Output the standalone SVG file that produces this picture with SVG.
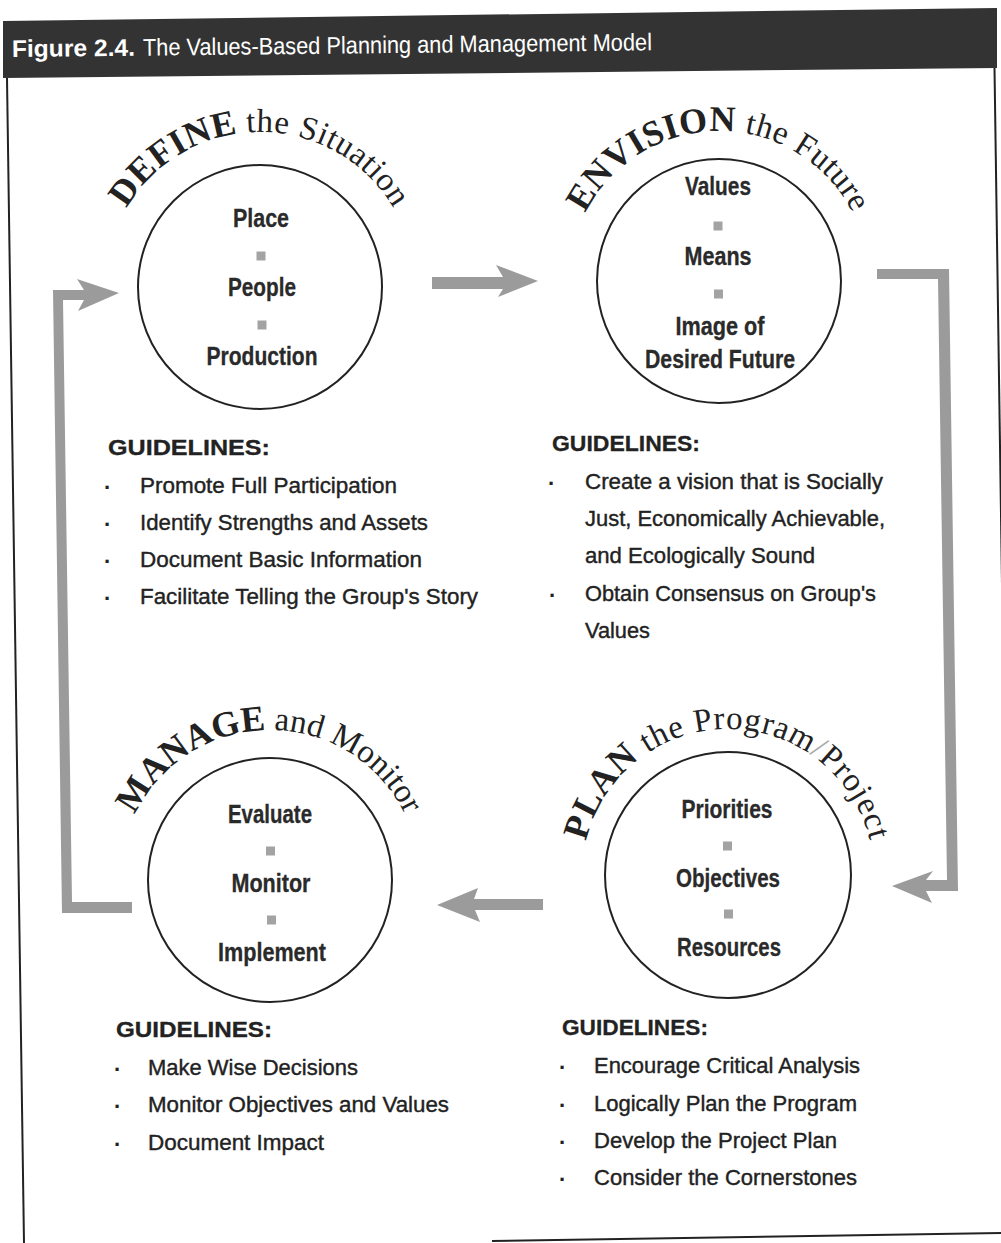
<svg xmlns="http://www.w3.org/2000/svg" width="1001" height="1243" viewBox="0 0 1001 1243">
<style>
.arc{font-family:"Liberation Serif","Times New Roman",serif;font-size:33px;fill:#222;letter-spacing:0.5px}
.cap{font-weight:bold;font-size:36px}
.inner{font-family:"Liberation Sans",Arial,sans-serif;font-weight:bold;font-size:25px;fill:#2a2a2a;text-anchor:middle;stroke:#2a2a2a;stroke-width:0.3}
.gh{font-family:"Liberation Sans",Arial,sans-serif;font-weight:bold;font-size:22px;fill:#222;stroke:#222;stroke-width:0.3}
.gi{font-family:"Liberation Sans",Arial,sans-serif;font-size:22.5px;fill:#222;stroke:#222;stroke-width:0.4}
.bul{font-family:"Liberation Sans",Arial,sans-serif;font-weight:bold;font-size:22px;fill:#222}
.arrow{fill:#9b9b9b}
.circ{fill:none;stroke:#222;stroke-width:2}
.sq{fill:#a3a3a3}
.frame{stroke:#222;stroke-width:2;fill:none}
.hd{font-family:"Liberation Sans",Arial,sans-serif;font-size:24px;fill:#fff}
</style>
<defs>
<path id="pDefine" d="M114.35,340 A155,155 0 1 1 405.65,340"/>
<path id="pEnvision" d="M578.05,332.3 A150,150 0 1 1 859.95,332.3"/>
<path id="pManage" d="M129.05,931.3 A150,150 0 1 1 410.95,931.3"/>
<path id="pPlan" d="M590.8,924.9 A146,146 0 1 1 865.2,924.9"/>
</defs>
<rect width="1001" height="1243" fill="#fff"/>
<g id="header">
<polygon points="3,21 997,8 997,68 3,78" fill="#333"/>
<text class="hd" transform="rotate(-0.6 12 57)" x="12" y="57"><tspan font-weight="bold" textLength="123" lengthAdjust="spacingAndGlyphs">Figure 2.4.</tspan><tspan x="143" textLength="509" lengthAdjust="spacingAndGlyphs">The Values-Based Planning and Management Model</tspan></text>
</g>
<g id="frame">
<line class="frame" x1="7" y1="78" x2="24" y2="1243"/>
<line class="frame" x1="994.5" y1="68" x2="1005" y2="790"/>
<line class="frame" x1="492" y1="1241" x2="1001" y2="1233"/>
</g>
<g id="connectors">
<polygon class="arrow" points="432,277 503,277 496,265 538,281 498,297 503,289 432,289"/>
<polygon class="arrow" points="543,899 474,899 478,888 437,905 480,922 475,910 543,910"/>
<polygon class="arrow" points="53,290 84,290 77,279 119,293 78,311 84,300 63,300 72,902 132,902 132,913 62,913"/>
<polygon class="arrow" points="877,269 949,269 958,891 926,891 932,903 892,886 933,871 926,880 947,880 938,279 877,279"/>
</g>
<g id="define">
<circle class="circ" cx="260" cy="287" r="122"/>
<text class="arc"><textPath href="#pDefine" startOffset="50%" text-anchor="middle"><tspan class="cap">DEFINE</tspan> the Situation</textPath></text>
<text class="inner" x="261" y="227" textLength="56" lengthAdjust="spacingAndGlyphs">Place</text>
<rect class="sq" x="256.5" y="251.5" width="9" height="9"/>
<text class="inner" x="262" y="296" textLength="68" lengthAdjust="spacingAndGlyphs">People</text>
<rect class="sq" x="257.5" y="320.5" width="9" height="9"/>
<text class="inner" x="262" y="365" textLength="111" lengthAdjust="spacingAndGlyphs">Production</text>
</g>
<g id="envision">
<circle class="circ" cx="719" cy="281" r="122"/>
<text class="arc"><textPath href="#pEnvision" startOffset="50%" text-anchor="middle"><tspan class="cap">ENVISION</tspan> the Future</textPath></text>
<text class="inner" x="718" y="195" textLength="66" lengthAdjust="spacingAndGlyphs">Values</text>
<rect class="sq" x="713.5" y="221.5" width="9" height="9"/>
<text class="inner" x="718" y="265" textLength="67" lengthAdjust="spacingAndGlyphs">Means</text>
<rect class="sq" x="714" y="289.5" width="9" height="9"/>
<text class="inner" x="720" y="335" textLength="89" lengthAdjust="spacingAndGlyphs">Image of</text>
<text class="inner" x="720" y="368" textLength="150" lengthAdjust="spacingAndGlyphs">Desired Future</text>
</g>
<g id="manage">
<circle class="circ" cx="270" cy="880" r="122"/>
<text class="arc" style="letter-spacing:0"><textPath href="#pManage" startOffset="50%" text-anchor="middle"><tspan class="cap">MANAGE</tspan> and Monitor</textPath></text>
<text class="inner" x="270" y="823" textLength="84" lengthAdjust="spacingAndGlyphs">Evaluate</text>
<rect class="sq" x="266" y="846.5" width="9" height="9"/>
<text class="inner" x="271" y="892" textLength="79" lengthAdjust="spacingAndGlyphs">Monitor</text>
<rect class="sq" x="267" y="915.5" width="9" height="9"/>
<text class="inner" x="272" y="961" textLength="108" lengthAdjust="spacingAndGlyphs">Implement</text>
</g>
<g id="plan">
<circle class="circ" cx="728" cy="875" r="123"/>
<text class="arc" style="letter-spacing:0.8px"><textPath href="#pPlan" startOffset="50%" text-anchor="middle"><tspan class="cap">PLAN</tspan> the Program<tspan fill="#aaa">/</tspan>Project</textPath></text>
<text class="inner" x="727" y="818" textLength="91" lengthAdjust="spacingAndGlyphs">Priorities</text>
<rect class="sq" x="723" y="841.5" width="9" height="9"/>
<text class="inner" x="728" y="887" textLength="104" lengthAdjust="spacingAndGlyphs">Objectives</text>
<rect class="sq" x="724" y="909.5" width="9" height="9"/>
<text class="inner" x="729" y="956" textLength="104" lengthAdjust="spacingAndGlyphs">Resources</text>
</g>
<g id="guidelines-define">
<text class="gh" x="108" y="455" textLength="162" lengthAdjust="spacingAndGlyphs">GUIDELINES:</text>
<text class="bul" x="104" y="495">·</text>
<text class="gi" x="140" y="493" textLength="257" lengthAdjust="spacingAndGlyphs">Promote Full Participation</text>
<text class="bul" x="104" y="532">·</text>
<text class="gi" x="140" y="530" textLength="288" lengthAdjust="spacingAndGlyphs">Identify Strengths and Assets</text>
<text class="bul" x="104" y="569">·</text>
<text class="gi" x="140" y="567" textLength="282" lengthAdjust="spacingAndGlyphs">Document Basic Information</text>
<text class="bul" x="104" y="606">·</text>
<text class="gi" x="140" y="604" textLength="338" lengthAdjust="spacingAndGlyphs">Facilitate Telling the Group's Story</text>
</g>
<g id="guidelines-envision">
<text class="gh" x="552" y="451" textLength="148" lengthAdjust="spacingAndGlyphs">GUIDELINES:</text>
<text class="bul" x="548" y="491">·</text>
<text class="gi" x="585" y="489" textLength="298" lengthAdjust="spacingAndGlyphs">Create a vision that is Socially</text>
<text class="gi" x="585" y="526" textLength="300" lengthAdjust="spacingAndGlyphs">Just, Economically Achievable,</text>
<text class="gi" x="585" y="563" textLength="230" lengthAdjust="spacingAndGlyphs">and Ecologically Sound</text>
<text class="bul" x="549" y="603">·</text>
<text class="gi" x="585" y="601" textLength="291" lengthAdjust="spacingAndGlyphs">Obtain Consensus on Group's</text>
<text class="gi" x="585" y="638" textLength="65" lengthAdjust="spacingAndGlyphs">Values</text>
</g>
<g id="guidelines-manage">
<text class="gh" x="116" y="1037" textLength="156" lengthAdjust="spacingAndGlyphs">GUIDELINES:</text>
<text class="bul" x="114" y="1077">·</text>
<text class="gi" x="148" y="1075" textLength="210" lengthAdjust="spacingAndGlyphs">Make Wise Decisions</text>
<text class="bul" x="114" y="1114">·</text>
<text class="gi" x="148" y="1112" textLength="301" lengthAdjust="spacingAndGlyphs">Monitor Objectives and Values</text>
<text class="bul" x="114" y="1152">·</text>
<text class="gi" x="148" y="1150" textLength="176" lengthAdjust="spacingAndGlyphs">Document Impact</text>
</g>
<g id="guidelines-plan">
<text class="gh" x="562" y="1035" textLength="146" lengthAdjust="spacingAndGlyphs">GUIDELINES:</text>
<text class="bul" x="559" y="1075">·</text>
<text class="gi" x="594" y="1073" textLength="266" lengthAdjust="spacingAndGlyphs">Encourage Critical Analysis</text>
<text class="bul" x="559" y="1113">·</text>
<text class="gi" x="594" y="1111" textLength="263" lengthAdjust="spacingAndGlyphs">Logically Plan the Program</text>
<text class="bul" x="559" y="1150">·</text>
<text class="gi" x="594" y="1148" textLength="243" lengthAdjust="spacingAndGlyphs">Develop the Project Plan</text>
<text class="bul" x="559" y="1187">·</text>
<text class="gi" x="594" y="1185" textLength="263" lengthAdjust="spacingAndGlyphs">Consider the Cornerstones</text>
</g>
</svg>
